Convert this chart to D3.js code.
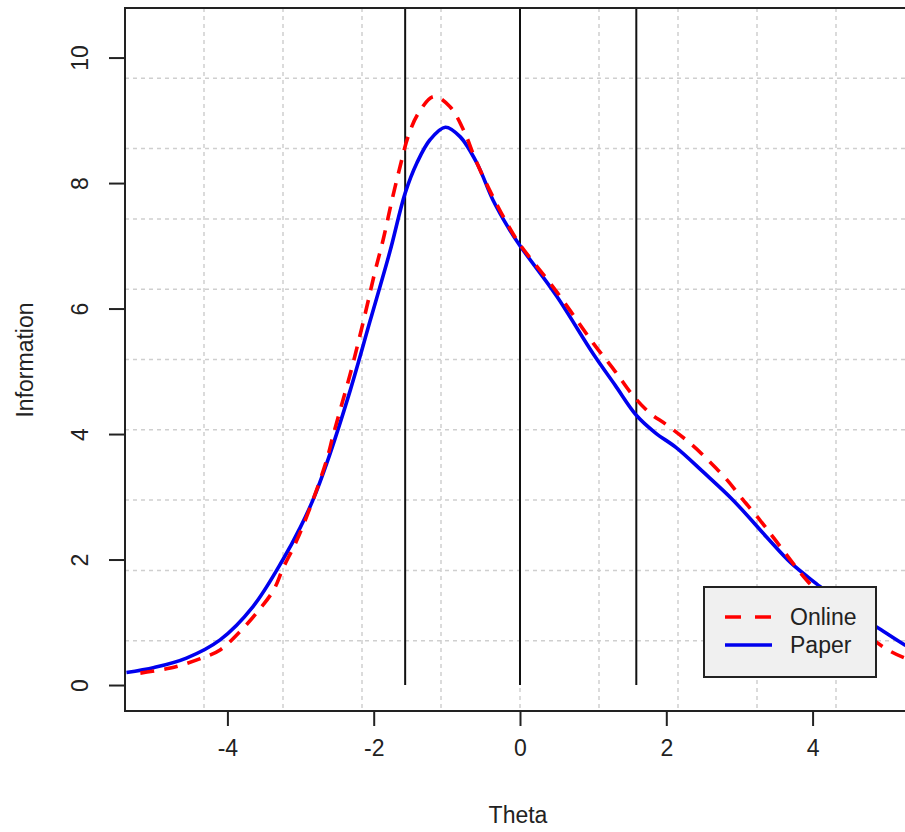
<!DOCTYPE html>
<html>
<head>
<meta charset="utf-8">
<script src="https://cdn.jsdelivr.net/npm/d3@7"></script>
<style>
  html, body { margin: 0; padding: 0; background: #ffffff; }
  svg { display: block; font-family: "Liberation Sans", Arial, sans-serif; }
</style>
</head>
<body>
<svg id="chart" width="905" height="832"></svg>
<script>
// ---- data ----
const paperTheta = [-5.38, -5.0, -4.56, -4.1, -3.65, -3.24, -3.0, -2.83, -2.64, -2.32, -2.05, -1.78, -1.57, -1.41, -1.23, -1.02, -0.82, -0.59, -0.37, -0.14, 0.0, 0.5, 1.0, 1.3, 1.59, 1.85, 2.14, 2.5, 2.91, 3.37, 3.7, 4.1, 4.5, 4.87, 5.26, 5.4];
const paperInfo  = [0.2, 0.28, 0.43, 0.72, 1.25, 2.0, 2.52, 2.95, 3.54, 4.7, 5.8, 6.9, 7.84, 8.32, 8.69, 8.89, 8.74, 8.32, 7.73, 7.25, 7.0, 6.2, 5.28, 4.78, 4.3, 4.02, 3.78, 3.4, 2.95, 2.36, 1.95, 1.57, 1.2, 0.93, 0.64, 0.56];

const onlineTheta = [-5.19, -4.78, -4.37, -4.1, -3.83, -3.6, -3.37, -3.24, -3.05, -2.83, -2.64, -2.55, -2.3, -2.12, -1.98, -1.87, -1.75, -1.64, -1.53, -1.39, -1.18, -0.96, -0.77, -0.6, -0.37, -0.14, 0.0, 0.5, 1.0, 1.3, 1.54, 1.78, 2.0, 2.36, 2.6, 2.83, 3.05, 3.28, 3.51, 3.92, 4.2, 4.5, 4.96, 5.26, 5.4];
const onlineInfo  = [0.19, 0.27, 0.42, 0.56, 0.85, 1.15, 1.51, 1.86, 2.31, 2.95, 3.6, 4.0, 5.05, 5.9, 6.6, 7.1, 7.73, 8.26, 8.74, 9.11, 9.38, 9.22, 8.84, 8.35, 7.78, 7.28, 7.02, 6.27, 5.45, 5.0, 4.62, 4.33, 4.15, 3.82, 3.55, 3.27, 2.95, 2.63, 2.28, 1.67, 1.35, 1.05, 0.61, 0.43, 0.38];

const refLines = [-1.57, 0, 1.59];
const xTicks = [-4, -2, 0, 2, 4];
const yTicks = [0, 2, 4, 6, 8, 10];
const seriesNames = ["Online", "Paper"];
const seriesColors = ["#ff0000", "#0000ee"];

// ---- layout ----
const svg = d3.select("#chart");
const pL = 125, pR = 915, pT = 8, pB = 711;
const x = d3.scaleLinear().domain([-5.4, 5.4]).range([pL, pR]);
const y = d3.scaleLinear().domain([-0.414, 10.79]).range([pB, pT]);

svg.append("defs").append("clipPath").attr("id", "clip")
  .append("rect").attr("x", pL).attr("y", pT).attr("width", pR - pL).attr("height", pB - pT);

// grid (10 equal divisions of plot range)
const gx = d3.range(1, 10).map(i => -5.4 + i * 10.8 / 10);
const gy = d3.range(1, 10).map(i => -0.414 + i * (10.79 + 0.414) / 10);
const grid = svg.append("g").attr("stroke", "#cfcfcf").attr("stroke-width", 1.5).attr("stroke-dasharray", "4,4");
grid.selectAll("line.gx").data(gx).enter().append("line")
  .attr("x1", d => x(d)).attr("x2", d => x(d)).attr("y1", pT).attr("y2", pB);
grid.selectAll("line.gy").data(gy).enter().append("line")
  .attr("x1", pL).attr("x2", pR).attr("y1", d => y(d)).attr("y2", d => y(d));

// reference vertical lines
svg.append("g").selectAll("line").data(refLines).enter().append("line")
  .attr("x1", d => x(d)).attr("x2", d => x(d)).attr("y1", y(0)).attr("y2", pT)
  .attr("stroke", "#111").attr("stroke-width", 2);

// curves
const line = d3.line().x(d => x(d[0])).y(d => y(d[1])).curve(d3.curveCatmullRom.alpha(0.5));
const online = onlineTheta.map((t, i) => [t, onlineInfo[i]]);
const paper = paperTheta.map((t, i) => [t, paperInfo[i]]);
const curves = svg.append("g").attr("clip-path", "url(#clip)");
curves.append("path").datum(paper).attr("d", line)
  .attr("fill", "none").attr("stroke", seriesColors[1]).attr("stroke-width", 3.6);
curves.append("path").datum(online).attr("d", line)
  .attr("fill", "none").attr("stroke", seriesColors[0]).attr("stroke-width", 3.6)
  .attr("stroke-dasharray", "14,10");

// box
svg.append("rect").attr("x", pL).attr("y", pT).attr("width", pR - pL).attr("height", pB - pT)
  .attr("fill", "none").attr("stroke", "#222").attr("stroke-width", 2);

// x axis
const xAxis = d3.axisBottom(x).tickValues(xTicks).tickSize(15).tickPadding(14).tickFormat(d3.format("d"));
const gxa = svg.append("g").attr("transform", `translate(0,${pB})`).call(xAxis);
gxa.select(".domain").remove();
gxa.selectAll(".tick line").attr("stroke", "#222").attr("stroke-width", 2);
gxa.selectAll(".tick text").attr("font-size", 23).attr("fill", "#222")
  .attr("font-family", "Liberation Sans, Arial, sans-serif").text(d => d < 0 ? "-" + Math.abs(d) : d);

// y axis
const yAxis = d3.axisLeft(y).tickValues(yTicks).tickSize(16).tickPadding(0).tickFormat(d3.format("d"));
const gya = svg.append("g").attr("transform", `translate(${pL},0)`).call(yAxis);
gya.select(".domain").remove();
gya.selectAll(".tick line").attr("stroke", "#222").attr("stroke-width", 2);
gya.selectAll(".tick text").attr("font-size", 23).attr("fill", "#222")
  .attr("font-family", "Liberation Sans, Arial, sans-serif")
  .attr("x", null).attr("dy", null)
  .attr("text-anchor", "middle")
  .attr("transform", "translate(-45,0) rotate(-90)")
  .attr("dominant-baseline", "central");

// axis titles
svg.append("text").attr("x", 518).attr("y", 815).attr("text-anchor", "middle")
  .attr("dominant-baseline", "central").attr("font-size", 23).attr("fill", "#222").text("Theta");
svg.append("text").attr("transform", "translate(25,360) rotate(-90)").attr("text-anchor", "middle")
  .attr("dominant-baseline", "central").attr("font-size", 23).attr("fill", "#222").text("Information");

// legend
const lg = svg.append("g");
lg.append("rect").attr("x", 704).attr("y", 587).attr("width", 172).attr("height", 90)
  .attr("fill", "#f0f0f0").attr("stroke", "#222").attr("stroke-width", 2);
const legY = [617, 645];
seriesNames.forEach((name, i) => {
  lg.append("line").attr("x1", 725).attr("x2", 772).attr("y1", legY[i]).attr("y2", legY[i])
    .attr("stroke", seriesColors[i]).attr("stroke-width", 3.6)
    .attr("stroke-dasharray", i === 0 ? "16,14" : null);
  lg.append("text").attr("x", 790).attr("y", legY[i]).attr("dominant-baseline", "central")
    .attr("font-size", 23).attr("fill", "#222").text(name);
});
</script>
</body>
</html>
